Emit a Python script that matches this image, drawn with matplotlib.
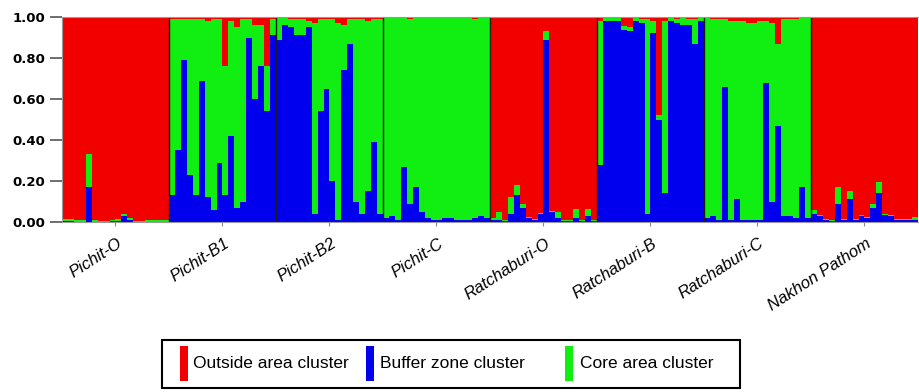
import numpy as np
import matplotlib
matplotlib.use("Agg")
import matplotlib.pyplot as plt
from matplotlib.patches import Rectangle
from matplotlib.transforms import ScaledTranslation

populations = ["Pichit-O", "Pichit-B1", "Pichit-B2", "Pichit-C",
               "Ratchaburi-O", "Ratchaburi-B", "Ratchaburi-C", "Nakhon Pathom"]
n_per_pop = 18
cluster_names = ["Outside area cluster", "Buffer zone cluster", "Core area cluster"]

# Membership in the buffer zone cluster (blue), 18 individuals per population
buffer_q = [
    0.005, 0.005, 0.0, 0.0, 0.17, 0.0, 0.0, 0.0, 0.005, 0.005, 0.03, 0.01, 0.0, 0.0, 0.0, 0.0, 0.0, 0.0,
    0.13, 0.35, 0.79, 0.23, 0.13, 0.69, 0.12, 0.06, 0.29, 0.13, 0.42, 0.07, 0.10, 0.90, 0.60, 0.76, 0.54, 0.91,
    0.89, 0.96, 0.95, 0.91, 0.91, 0.95, 0.04, 0.54, 0.65, 0.20, 0.01, 0.74, 0.87, 0.10, 0.04, 0.15, 0.39, 0.04,
    0.02, 0.03, 0.01, 0.27, 0.09, 0.17, 0.05, 0.02, 0.01, 0.01, 0.02, 0.02, 0.01, 0.01, 0.01, 0.02, 0.03, 0.02,
    0.01, 0.01, 0.005, 0.04, 0.13, 0.07, 0.02, 0.01, 0.04, 0.89, 0.05, 0.02, 0.005, 0.005, 0.02, 0.005, 0.03, 0.005,
    0.28, 0.98, 0.98, 0.98, 0.935, 0.93, 0.98, 0.97, 0.04, 0.92, 0.50, 0.14, 0.98, 0.97, 0.96, 0.96, 0.87, 0.98,
    0.02, 0.03, 0.01, 0.66, 0.01, 0.11, 0.01, 0.01, 0.01, 0.01, 0.68, 0.10, 0.47, 0.03, 0.03, 0.02, 0.17, 0.02,
    0.04, 0.03, 0.01, 0.005, 0.09, 0.01, 0.11, 0.01, 0.03, 0.02, 0.07, 0.14, 0.035, 0.03, 0.01, 0.01, 0.01, 0.01,
]
# Membership in the core area cluster (green)
core_q = [
    0.01, 0.01, 0.01, 0.01, 0.16, 0.01, 0.005, 0.005, 0.005, 0.01, 0.01, 0.01, 0.005, 0.005, 0.01, 0.01, 0.01, 0.01,
    0.86, 0.64, 0.20, 0.76, 0.86, 0.30, 0.86, 0.93, 0.70, 0.63, 0.56, 0.88, 0.89, 0.09, 0.36, 0.20, 0.22, 0.08,
    0.11, 0.04, 0.04, 0.08, 0.08, 0.03, 0.93, 0.45, 0.34, 0.79, 0.96, 0.22, 0.12, 0.89, 0.95, 0.83, 0.60, 0.95,
    0.98, 0.97, 0.99, 0.73, 0.90, 0.83, 0.95, 0.98, 0.99, 0.99, 0.98, 0.98, 0.99, 0.99, 0.99, 0.97, 0.97, 0.98,
    0.01, 0.04, 0.005, 0.08, 0.05, 0.02, 0.005, 0.005, 0.005, 0.04, 0.005, 0.03, 0.005, 0.005, 0.045, 0.005, 0.035, 0.005,
    0.70, 0.015, 0.015, 0.015, 0.02, 0.02, 0.015, 0.02, 0.95, 0.06, 0.02, 0.84, 0.015, 0.02, 0.035, 0.03, 0.12, 0.015,
    0.975, 0.96, 0.98, 0.33, 0.97, 0.87, 0.97, 0.96, 0.96, 0.97, 0.30, 0.87, 0.40, 0.96, 0.96, 0.97, 0.825, 0.975,
    0.02, 0.005, 0.005, 0.005, 0.08, 0.005, 0.04, 0.005, 0.005, 0.005, 0.02, 0.055, 0.005, 0.005, 0.005, 0.005, 0.005, 0.015,
]

blue = np.array(buffer_q)
green = np.array(core_q)
red = np.clip(1.0 - blue - green, 0, 1)   # outside area cluster (remainder, Q sums to 1)

C_RED, C_BLUE, C_GREEN = "#f20000", "#0000ee", "#11ee11"
cluster_colors = [C_RED, C_BLUE, C_GREEN]

W, H = 920, 392
fig = plt.figure(figsize=(W / 100, H / 100), dpi=100)
ax = fig.add_axes([62 / W, 1 - 222 / H, (918 - 62) / W, (222 - 17) / H])

x = np.arange(len(blue))
ax.bar(x, blue, width=1.0, color=C_BLUE, linewidth=0)
ax.bar(x, green, width=1.0, bottom=blue, color=C_GREEN, linewidth=0)
ax.bar(x, red, width=1.0, bottom=blue + green, color=C_RED, linewidth=0)

for k in range(1, len(populations)):
    ax.axvline(k * n_per_pop - 0.5, color="#1a1a1a", lw=1.0)

ax.set_xlim(-0.5, len(blue) - 0.5)
ax.set_ylim(0, 1.0)
ax.set_yticks([0, 0.2, 0.4, 0.6, 0.8, 1.0])
ax.set_yticklabels(["0.00", "0.20", "0.40", "0.60", "0.80", "1.00"],
                   fontsize=9.5, fontweight="bold", family="DejaVu Sans")
ax.tick_params(axis="y", length=9, width=1.2, color="#555555", pad=3)

centers = [k * n_per_pop + (n_per_pop - 1) / 2 for k in range(len(populations))]
ax.set_xticks(centers)
ax.set_xticklabels([])
ax.tick_params(axis="x", length=3, width=0.8, color="#888888")
offset = ScaledTranslation(1 / 100, -14 / 100, fig.dpi_scale_trans)
for c, name in zip(centers, populations):
    ax.text(c, 0, name, transform=ax.transData + offset, rotation=33,
            rotation_mode="anchor", ha="right", va="top",
            fontsize=12, style="italic", family="Liberation Sans")

for s in ["left", "bottom", "top", "right"]:
    ax.spines[s].set_color("#999999")
    ax.spines[s].set_linewidth(0.8)
ax.spines["right"].set_visible(False)

# Legend box drawn in figure pixel coordinates (y measured from the top)
def fx(px):
    return px / W

def fy(py):
    return 1 - py / H

fig.patches.append(Rectangle((fx(162), fy(388)), fx(740) - fx(162), fy(340) - fy(388),
                             transform=fig.transFigure, fill=False,
                             edgecolor="black", linewidth=1.5))
patch_x = [180, 366, 565]
text_x = [193, 380, 580]
for px, tx, col, name in zip(patch_x, text_x, cluster_colors, cluster_names):
    fig.patches.append(Rectangle((fx(px), fy(381)), fx(px + 8) - fx(px), fy(346) - fy(381),
                                 transform=fig.transFigure, facecolor=col,
                                 edgecolor="none"))
    fig.text(fx(tx), fy(364), name, ha="left", va="center",
             fontsize=12.5, family="Liberation Sans")

fig.savefig("out.png", dpi=100, facecolor="white")
